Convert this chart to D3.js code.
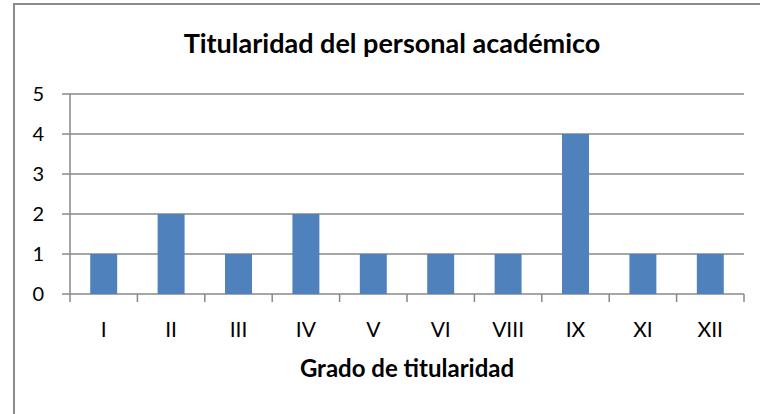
<!DOCTYPE html>
<html>
<head>
<meta charset="utf-8">
<script src="https://cdn.jsdelivr.net/npm/d3@7"></script>
<style>
  body { margin: 0; background: #fff; }
  text { font-family: Lato, "Open Sans", sans-serif; fill: #000; }
</style>
</head>
<body>
<script>
// data
const categories = ["I", "II", "III", "IV", "V", "VI", "VIII", "IX", "XI", "XII"];
const values = [1, 2, 1, 2, 1, 1, 1, 4, 1, 1];
const yTicks = [0, 1, 2, 3, 4, 5];

const width = 760, height = 414;
const plot = {left: 70, right: 744, top: 94, bottom: 294};

const svg = d3.select("body").append("svg")
    .attr("width", width).attr("height", height);

// chart border (runs off the right and bottom edges)
svg.append("rect")
    .attr("x", 14).attr("y", 4)
    .attr("width", 800).attr("height", 450)
    .attr("fill", "none")
    .attr("stroke", "#8c8c8c")
    .attr("stroke-width", 2);

const x = d3.scaleBand()
    .domain(categories)
    .range([plot.left, plot.right])
    .paddingInner(0.6)
    .paddingOuter(0.3);

const xTickScale = d3.scaleLinear()
    .domain([0, categories.length])
    .range([plot.left, plot.right]);

const y = d3.scaleLinear()
    .domain([0, 5])
    .range([plot.bottom, plot.top]);

// gridlines
svg.append("g")
    .selectAll("line")
    .data(yTicks)
    .enter().append("line")
    .attr("x1", plot.left - 8)
    .attr("x2", plot.right)
    .attr("y1", d => y(d))
    .attr("y2", d => y(d))
    .attr("stroke", "#888")
    .attr("stroke-width", 1.5);

// y axis line
svg.append("line")
    .attr("x1", plot.left).attr("x2", plot.left)
    .attr("y1", plot.top).attr("y2", plot.bottom)
    .attr("stroke", "#888").attr("stroke-width", 1.5);

// x axis ticks
svg.append("g")
    .selectAll("line")
    .data(d3.range(categories.length + 1))
    .enter().append("line")
    .attr("x1", d => xTickScale(d))
    .attr("x2", d => xTickScale(d))
    .attr("y1", plot.bottom)
    .attr("y2", plot.bottom + 8)
    .attr("stroke", "#888")
    .attr("stroke-width", 1.5);

// bars
svg.append("g")
    .selectAll("rect")
    .data(values)
    .enter().append("rect")
    .attr("x", (d, i) => x(categories[i]))
    .attr("width", x.bandwidth())
    .attr("y", d => y(d))
    .attr("height", d => y(0) - y(d))
    .attr("fill", "#4f81bd");

// y tick labels
svg.append("g")
    .selectAll("text")
    .data(yTicks)
    .enter().append("text")
    .attr("x", 44)
    .attr("y", d => y(d))
    .attr("dy", "0.36em")
    .attr("text-anchor", "end")
    .style("font-size", "20px")
    .text(d => d);

// x tick labels
svg.append("g")
    .selectAll("text")
    .data(categories)
    .enter().append("text")
    .attr("x", d => x(d) + x.bandwidth() / 2)
    .attr("y", 337)
    .attr("text-anchor", "middle")
    .style("font-size", "21px")
    .text(d => d);

// title
svg.append("text")
    .attr("x", 392)
    .attr("y", 53)
    .attr("text-anchor", "middle")
    .style("font-size", "27px")
    .style("font-weight", "bold")
    .text("Titularidad del personal académico");

// x axis title
svg.append("text")
    .attr("x", (plot.left + plot.right) / 2)
    .attr("y", 377)
    .attr("text-anchor", "middle")
    .style("font-size", "24px")
    .style("font-weight", "bold")
    .text("Grado de titularidad");
</script>
</body>
</html>
